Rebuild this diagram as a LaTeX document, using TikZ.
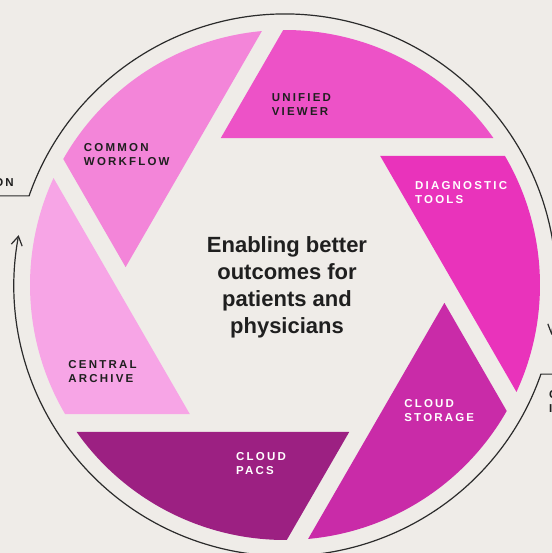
\documentclass[tikz,border=0pt]{standalone}
\usepackage{fontspec}
\usepackage{xcolor}
\setmainfont{Liberation Sans}
\newfontfamily\labelfont{Liberation Sans Bold}[LetterSpace=19]
\newfontfamily\centerfont{Liberation Sans Bold}
\usetikzlibrary{arrows.meta}
\definecolor{paper}{HTML}{EFECE8}
\definecolor{ink}{HTML}{1F1F1F}
\definecolor{ring}{HTML}{2B2B2B}
\definecolor{unified}{HTML}{ED52C7}
\definecolor{common}{HTML}{F385D9}
\definecolor{central}{HTML}{F7A5E6}
\definecolor{pacs}{HTML}{9C2082}
\definecolor{storage}{HTML}{C92BA8}
\definecolor{diagnostic}{HTML}{E933BB}
\tikzset{x=1bp, y=1bp,
 blade label/.style={font=\labelfont\fontsize{11.5bp}{14bp}\selectfont,
  align=left, anchor=west, inner sep=0pt, text=ink},
 light label/.style={blade label, text=white},
 cycle line/.style={draw=ring, line width=1.2bp,
  -{Straight Barb[length=9bp, width=11bp]}},
 }

\begin{document}
\begin{tikzpicture}
        \fill[paper] (-285,-268) rectangle (267,285);
        \useasboundingbox (-285,-268) rectangle (267,285);
        \foreach \ang/\col in {0/unified, 60/common, 120/central,
                180/pacs, 240/storage, 300/diagnostic}
            \fill[\col] (35.2+\ang:255)
                arc[start angle=35.2+\ang, end angle=90.4+\ang, radius=255]
                -- (113.6+\ang:160.4) -- cycle;
        \coordinate (leftend) at (-292,89.1);
        \coordinate (leftcorner) at (160.8:271);
        \coordinate (rightend) at (274,-89.1);
        \coordinate (rightcorner) at (-19.2:271);
        \draw[cycle line] (leftend) -- (leftcorner)
            arc[start angle=160.8, end angle=-10.6, radius=271];
        \draw[cycle line] (rightend) -- (rightcorner)
            arc[start angle=-19.2, end angle=-190.6, radius=271];
        \node[blade label] (unifiedtext) at (-13.3,180) {UNIFIED\\VIEWER};
        \node[blade label] (commontext) at (-201.2,130.8) {COMMON\\WORKFLOW};
        \node[blade label] (centraltext) at (-216.7,-86.7) {CENTRAL\\ARCHIVE};
        \node[light label] (pacstext) at (-49,-179) {CLOUD\\PACS};
        \node[light label] (storagetext) at (119.2,-126) {CLOUD\\STORAGE};
        \node[light label] (diagnostictext) at (130,92.7) {DIAGNOSTIC\\TOOLS};
        \node[blade label, anchor=east] (lefttext) at (-271,102.8) {ON};
        \node[blade label] (righttext) at (264,-116.7) {C\\I};
        \node[font=\centerfont\fontsize{22bp}{27bp}\selectfont,
            align=center, text=ink, inner sep=0pt] (goal) at (2,-2.5)
            {Enabling better\\outcomes for\\patients and\\physicians};
    \end{tikzpicture}
\end{document}
